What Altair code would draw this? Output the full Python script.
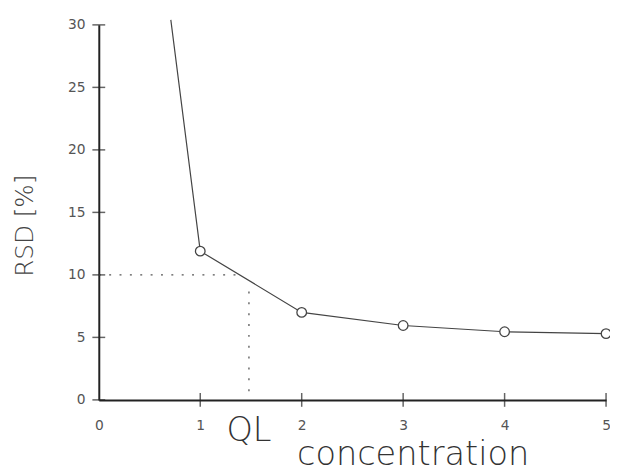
import altair as alt
import pandas as pd

# curve: first value is where the steep branch leaves the top of the plot
line_conc = [0.71, 1, 2, 3, 4, 5]
line_rsd = [30.4, 11.9, 7.0, 5.95, 5.45, 5.3]

point_conc = [1, 2, 3, 4, 5]
point_rsd = [11.9, 7.0, 5.95, 5.45, 5.3]

rsd_limit = 10
ql_conc = 1.48
ql_label = "QL"

x_label_values = [0, 1, 2, 3, 4, 5]
x_tick_values = [1, 2, 3, 4, 5]
y_tick_values = [0, 5, 10, 15, 20, 25, 30]

line_df = pd.DataFrame({"c": line_conc, "r": line_rsd})
pt_df = pd.DataFrame({"c": point_conc, "r": point_rsd})
hdot_df = pd.DataFrame({"c": [0], "c2": [1.36], "r": [rsd_limit]})
vdot_df = pd.DataFrame({"c": [ql_conc], "r": [0.7], "r2": [9.0]})
ql_df = pd.DataFrame({"c": [ql_conc], "r": [-3.25], "t": [ql_label]})
xt_df = pd.DataFrame({"c": x_tick_values, "r": [0] * len(x_tick_values)})
yt_df = pd.DataFrame({"c": [0] * len(y_tick_values), "r": y_tick_values})

xs = alt.Scale(domain=[0, 5], nice=False, zero=False)
ys = alt.Scale(domain=[0, 30], nice=False, zero=False)

LABEL_FONT = "DejaVu Sans"
TITLE_FONT = "DejaVu Sans"

xa = alt.Axis(
    values=x_label_values, ticks=False, grid=False,
    domainColor="#222", domainWidth=2, labelPadding=19,
    labelFont=LABEL_FONT, labelFontSize=14, labelColor="#555",
    title="concentration", titleFont=TITLE_FONT, titleFontSize=34,
    titleFontWeight=200, titleColor="#333",
    titleX=318, titleY=65, titleAlign="center", titleBaseline="alphabetic",
    labelFlush=False)
ya = alt.Axis(
    values=y_tick_values, ticks=False, grid=False,
    domainColor="#222", domainWidth=2, labelPadding=14,
    labelFont=LABEL_FONT, labelFontSize=14, labelColor="#555",
    title="RSD [%]", titleFont=TITLE_FONT, titleFontSize=25,
    titleFontWeight=200, titleColor="#444",
    titleX=-67, titleY=203, titleAlign="center", titleBaseline="alphabetic",
    labelFlush=False)

X = alt.X("c:Q", scale=xs, axis=xa)
Y = alt.Y("r:Q", scale=ys, axis=ya)

line = alt.Chart(line_df).mark_line(color="#444", strokeWidth=1.2).encode(x=X, y=Y)

points = alt.Chart(pt_df).mark_point(
    shape="circle", size=95, filled=True, fill="white", stroke="#444",
    strokeWidth=1.3, opacity=1).encode(x=X, y=Y)

hdot = alt.Chart(hdot_df).mark_rule(color="#555", strokeWidth=1.3, strokeDash=[2, 8.5]).encode(
    x=X, x2="c2:Q", y=Y)

vdot = alt.Chart(vdot_df).mark_rule(color="#555", strokeWidth=1.3, strokeDash=[2, 9]).encode(
    x=X, y=Y, y2="r2:Q")

ql = alt.Chart(ql_df).mark_text(
    font=TITLE_FONT, fontSize=34, fontWeight=200, color="#333",
    baseline="alphabetic", align="center").encode(x=X, y=Y, text="t:N")

xticks = alt.Chart(xt_df).mark_tick(orient="vertical", size=14, thickness=1.5, color="#222").encode(
    x=X, y=Y)

yticks = alt.Chart(yt_df).mark_tick(orient="horizontal", size=13, thickness=1.5, color="#222").encode(
    x=X, y=Y)

chart = alt.layer(line, hdot, vdot, points, xticks, yticks, ql).properties(
    width=514, height=380,
    autosize=alt.AutoSizeParams(type="none"),
    padding={"left": 92, "top": 14, "right": 4, "bottom": 73},
    background="white",
).configure_view(stroke=None)

chart.save("out.html", embed_options={"renderer": "svg", "actions": False})
